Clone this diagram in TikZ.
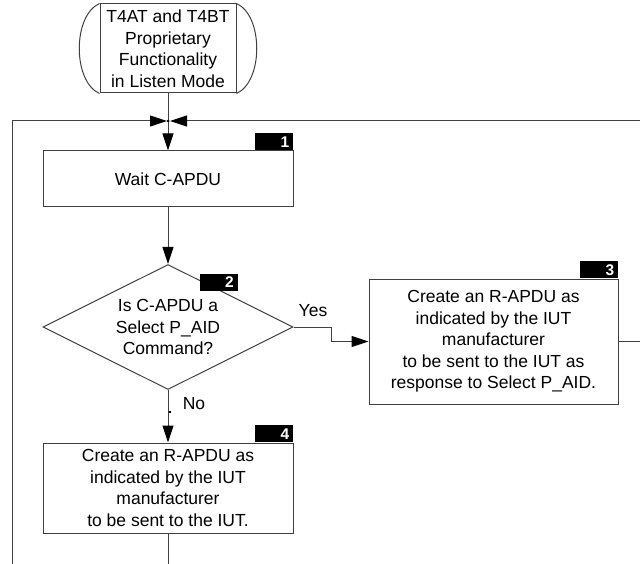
\documentclass[tikz,border=0pt]{standalone}
\usepackage{fontspec}
\setmainfont{Liberation Sans}
\usetikzlibrary{arrows.meta,shapes.geometric}
\definecolor{linecol}{gray}{0.25}

\tikzset{
  stepbox/.style={draw=linecol,line width=1pt,rectangle,inner sep=0pt,align=center,
    font=\fontsize{17.5}{21.5}\selectfont},
  decision/.style={stepbox,diamond,shape aspect=2},
  numtag/.style={fill=black,text=white,inner xsep=4pt,inner ysep=0pt,minimum height=17pt,
    text width=30pt,align=right,font=\bfseries\fontsize{15.5}{15.5}\selectfont},
  flow/.style={draw=linecol,line width=1pt},
  flowarrow/.style={flow,-{Triangle[length=17pt,width=11pt,color=black,fill=black]}}
}

\begin{document}
\begin{tikzpicture}[x=1pt,y=-1pt]
  \useasboundingbox (0,0) rectangle (640,564);

  \node[stepbox,minimum width=136pt,minimum height=89pt] (start) at (168,48.5)
    {T4AT and T4BT\\Proprietary\\Functionality\\in Listen Mode};
  \path[flow] (start.north west) .. controls +(-27,12) and +(-27,-12) .. (start.south west)
              (start.north east) .. controls +(27,12) and +(27,-12) .. (start.south east);

  \node[stepbox,minimum width=250pt,minimum height=56pt] (wait) at (168,179) {Wait C-APDU};
  \node[decision,minimum width=250pt,minimum height=125pt] (isselect) at (168,327)
    {Is C-APDU a\\Select P\_AID\\Command?};
  \node[stepbox,minimum width=249pt,minimum height=125pt] (respselect) at (493.5,341.5)
    {Create an R-APDU as\\indicated by the IUT\\manufacturer\\to be sent to the IUT as\\response to Select P\_AID.};
  \node[stepbox,minimum width=250pt,minimum height=90pt] (respother) at (168,488)
    {Create an R-APDU as\\indicated by the IUT\\manufacturer\\to be sent to the IUT.};

  \node[numtag,anchor=south east] (tag1) at (wait.north east) {1};
  \node[numtag,anchor=south east] (tag2) at (238,291) {2};
  \node[numtag,anchor=south east] (tag3) at (respselect.north east) {3};
  \node[numtag,anchor=south east] (tag4) at (respother.north east) {4};

  \coordinate (join) at (168,121);
  \coordinate (loopleft) at (12,121);
  \coordinate (loopbottom) at (12,564);
  \coordinate (loopright) at (640,121);
  \coordinate (exitright) at (640,341.5);
  \coordinate (exitbottom) at (168,564);
  \coordinate (yesbend) at (331,327);

  \path[flow] (start.south) -- (join);
  \path[flowarrow] (join) -- (wait.north);
  \path[flowarrow] (loopbottom) -- (loopleft) -- ([xshift=-1pt]join);
  \path[flowarrow] (loopright) -- ([xshift=2pt]join);
  \fill[black] (join) circle (1.5pt);

  \path[flowarrow] (wait.south) -- (isselect.north);
  \path[flowarrow] (isselect.east) -- (yesbend) |- (respselect.west);
  \node (yes) at (313,311) {\fontsize{17.5}{21.5}\selectfont Yes};
  \path[flowarrow] (isselect.south) -- (respother.north);
  \node (no) at (194,404) {\fontsize{17.5}{21.5}\selectfont No};
  \fill[black] (168.5,410.5) rectangle (171,413);

  \path[flow] (respselect.east) -- (exitright);
  \path[flow] (respother.south) -- (exitbottom);
\end{tikzpicture}
\end{document}
